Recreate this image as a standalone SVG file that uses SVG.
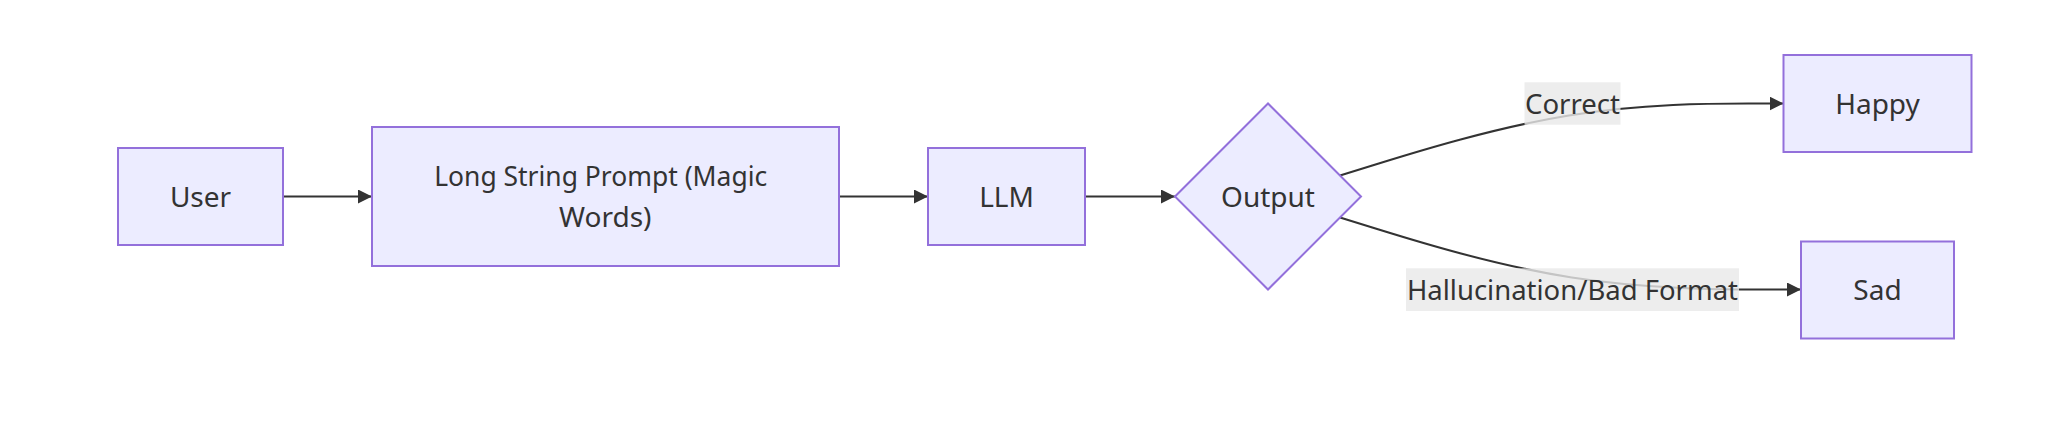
<svg xmlns="http://www.w3.org/2000/svg" width="2068" height="448" viewBox="0 0 2068 448">
  <style>
    .node rect, .node polygon { fill: #ECECFF; stroke: #9370DB; stroke-width: 2; }
    .label { font-family: "Noto Sans", "DejaVu Sans", sans-serif; font-size: 28px; fill: #333333; text-anchor: middle; }
    .edge { fill: none; stroke: #333333; stroke-width: 2; }
    .edge-label-bg { fill: #e8e8e8; fill-opacity: 0.8; }
  </style>
  <defs>
    <marker id="arrow" viewBox="0 0 10 10" refX="10" refY="5" markerWidth="14" markerHeight="14" markerUnits="userSpaceOnUse" orient="auto">
      <path d="M0,0 L10,5 L0,10 z" fill="#333333"/>
    </marker>
  </defs>
  <rect width="2068" height="448" fill="#ffffff"/>

  <g id="connectors">
    <path class="edge" d="M283,196.5 L372,196.5" marker-end="url(#arrow)"/>
    <path class="edge" d="M839,196.5 L928,196.5" marker-end="url(#arrow)"/>
    <path class="edge" d="M1085,196.5 L1175,196.5" marker-end="url(#arrow)"/>
    <path class="edge" d="M1340,175.5 L1378.75,163.5 C1417.5,151.5 1495,127.5 1568.9,115.5 C1642.8,103.5 1713.2,103.5 1748.3,103.5 L1783.5,103.5" marker-end="url(#arrow)"/>
    <path class="edge" d="M1340,217.5 L1378.75,229.5 C1417.5,241.5 1495,265.5 1571.8,277.5 C1648.7,289.5 1724.8,289.5 1762.9,289.5 L1801,289.5" marker-end="url(#arrow)"/>
  </g>

  <g id="edge-labels">
    <g id="label-correct">
      <rect class="edge-label-bg" x="1524.5" y="82.3" width="96" height="42.4"/>
      <text class="label" x="1572.5" y="113.5" textLength="95" lengthAdjust="spacingAndGlyphs">Correct</text>
    </g>
    <g id="label-hallucination">
      <rect class="edge-label-bg" x="1406" y="268.3" width="333" height="42.7"/>
      <text class="label" x="1572.5" y="299.7" textLength="331" lengthAdjust="spacingAndGlyphs">Hallucination/Bad Format</text>
    </g>
  </g>

  <g id="node-user" class="node">
    <rect x="118" y="148" width="165" height="97"/>
    <text class="label" x="200.5" y="206.5">User</text>
  </g>
  <g id="node-prompt" class="node">
    <rect x="372" y="127" width="467" height="139"/>
    <text class="label" x="600.7" y="185.5" textLength="333" lengthAdjust="spacingAndGlyphs">Long String Prompt (Magic</text>
    <text class="label" x="605.3" y="227">Words)</text>
  </g>
  <g id="node-llm" class="node">
    <rect x="928" y="148" width="157" height="97"/>
    <text class="label" x="1006.5" y="206.5">LLM</text>
  </g>
  <g id="node-output" class="node">
    <polygon points="1175,196.5 1268,103.5 1361,196.5 1268,289.5"/>
    <text class="label" x="1268" y="206.5">Output</text>
  </g>
  <g id="node-happy" class="node">
    <rect x="1783.5" y="55" width="188" height="97"/>
    <text class="label" x="1877.5" y="113.5">Happy</text>
  </g>
  <g id="node-sad" class="node">
    <rect x="1801" y="241.5" width="153" height="97"/>
    <text class="label" x="1877.5" y="299.5">Sad</text>
  </g>
</svg>
